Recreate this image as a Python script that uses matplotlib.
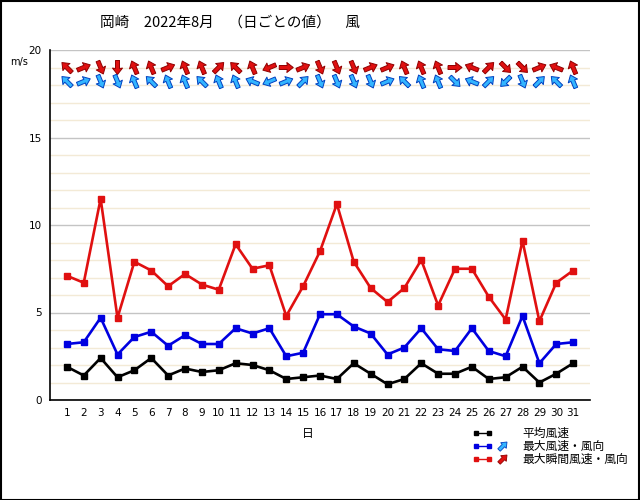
import matplotlib
matplotlib.use("Agg")
import matplotlib.pyplot as plt
import numpy as np
from matplotlib.patches import Rectangle, FancyArrow

plt.rcParams["font.family"] = ["Noto Sans CJK JP", "DejaVu Sans"]

days = list(range(1, 32))
avg_speed = [1.9, 1.4, 2.4, 1.3, 1.7, 2.4, 1.4, 1.8, 1.6, 1.7, 2.1, 2.0, 1.7, 1.2, 1.3, 1.4,
             1.2, 2.1, 1.5, 0.9, 1.2, 2.1, 1.5, 1.5, 1.9, 1.2, 1.3, 1.9, 1.0, 1.5, 2.1]
max_speed = [3.2, 3.3, 4.7, 2.6, 3.6, 3.9, 3.1, 3.7, 3.2, 3.2, 4.1, 3.8, 4.1, 2.5, 2.7, 4.9,
             4.9, 4.2, 3.8, 2.6, 3.0, 4.1, 2.9, 2.8, 4.1, 2.8, 2.5, 4.8, 2.1, 3.2, 3.3]
gust_speed = [7.1, 6.7, 11.5, 4.7, 7.9, 7.4, 6.5, 7.2, 6.6, 6.3, 8.9, 7.5, 7.7, 4.8, 6.5, 8.5,
              11.2, 7.9, 6.4, 5.6, 6.4, 8.0, 5.4, 7.5, 7.5, 5.9, 4.6, 9.1, 4.5, 6.7, 7.4]

# wind direction (from), 16 points
max_dir = ["南東", "西南西", "北北西", "北北西", "南南東", "南東", "南南東", "南南東", "南東", "南南東",
           "南南東", "東南東", "東北東", "西南西", "南西", "北北西", "北北西", "北北西", "北北西", "西南西",
           "南東", "南南東", "南南東", "北西", "東南東", "南西", "北東", "北北西", "南西", "南東", "南南東"]
gust_dir = ["南東", "西南西", "北北西", "北", "南南東", "南南東", "西南西", "南南東", "南南東", "南西",
            "南東", "南南東", "東北東", "西", "西南西", "北北西", "北北西", "北北西", "西南西", "西南西",
            "南南東", "南南東", "南南東", "西", "東南東", "南西", "北西", "北西", "西南西", "東南東", "南南東"]

compass = ["北", "北北東", "北東", "東北東", "東", "東南東", "南東", "南南東",
           "南", "南南西", "南西", "西南西", "西", "西北西", "北西", "北北西"]

RED = "#e01010"
BLUE = "#0000e0"
CYAN = "#33b5ff"


def arrow_uv(dirs, length):
    """Arrow pointing downwind, in screen dots."""
    u, v = [], []
    for d in dirs:
        az = np.deg2rad(compass.index(d) * 22.5 + 180)
        u.append(length * np.sin(az))
        v.append(length * np.cos(az))
    return np.array(u), np.array(v)


fig = plt.figure(figsize=(6.4, 5.0), dpi=100)
ax = fig.add_axes([50 / 640, 100 / 500, 540 / 640, 350 / 500])

ax.set_xlim(0, 32)
ax.set_ylim(0, 20)
ax.set_yticks(range(0, 21, 5))
ax.set_yticks(range(0, 21), minor=True)
ax.set_xticks(days)
ax.set_xticks(range(5, 31, 5), minor=True)
ax.grid(which="minor", axis="y", color="#f3ead6", linewidth=1)
ax.grid(which="major", axis="y", color="#c4c4c4", linewidth=1)
ax.grid(which="minor", axis="x", color="#c4c4c4", linewidth=1)
ax.set_axisbelow(True)
ax.tick_params(which="both", length=0, labelsize=7.5, pad=6)
for lab in ax.get_xticklabels() + ax.get_yticklabels():
    lab.set_family("DejaVu Sans")
for side in ("top", "right"):
    ax.spines[side].set_visible(False)
ax.spines["left"].set_linewidth(1.2)
ax.spines["bottom"].set_linewidth(1.2)

ax.plot(days, gust_speed, color=RED, lw=1.9, marker="s", ms=4.8, zorder=3)
ax.plot(days, max_speed, color=BLUE, lw=1.9, marker="s", ms=4.8, zorder=3)
ax.plot(days, avg_speed, color="black", lw=1.9, marker="s", ms=4.8, zorder=3)

qkw = dict(angles="uv", scale_units="dots", scale=1, units="dots", width=4.0,
           headwidth=2.5, headlength=1.6, headaxislength=1.5, pivot="mid",
           linewidth=0.7, zorder=4)
u, v = arrow_uv(gust_dir, 14)
ax.quiver(days, [19.0] * 31, u, v, facecolor=RED, edgecolor="#900000", **qkw)
u, v = arrow_uv(max_dir, 14)
ax.quiver(days, [18.2] * 31, u, v, facecolor=CYAN, edgecolor="#0040c0", **qkw)

fig.text(100 / 640, 1 - 23 / 500, "岡崎　2022年8月　（日ごとの値）　風", fontsize=10.5, va="center")
fig.text(10 / 640, 1 - 62 / 500, "m/s", fontsize=7, va="center", family="DejaVu Sans")
fig.text(308 / 640, 1 - 433 / 500, "日", fontsize=8.5, ha="center", va="center")

# legend in its own pixel-scaled axes
lax = fig.add_axes([460 / 640, 30 / 500, 180 / 640, 50 / 500])
lax.set_xlim(460, 640)
lax.set_ylim(470, 420)
lax.axis("off")
legend = [("平均風速", "black", None, None),
          ("最大風速・風向", BLUE, CYAN, "#0040c0"),
          ("最大瞬間風速・風向", RED, RED, "#900000")]
for i, (label, lc, fc, ec) in enumerate(legend):
    yp = 433 + i * 13
    lax.plot([476, 489], [yp, yp], color=lc, lw=1, marker="s", ms=2.5)
    if fc is not None:
        lax.add_patch(FancyArrow(499, yp + 4, 8, -8, width=3.5, head_width=8,
                                 head_length=5, length_includes_head=True,
                                 facecolor=fc, edgecolor=ec, linewidth=0.6))
    lax.text(522, yp, label, fontsize=8.5, va="center")

fig.add_artist(Rectangle((0.001, 0.001), 0.997, 0.997, fill=False, edgecolor="black",
                         linewidth=1.5, transform=fig.transFigure))

fig.savefig("out.png", dpi=100)
